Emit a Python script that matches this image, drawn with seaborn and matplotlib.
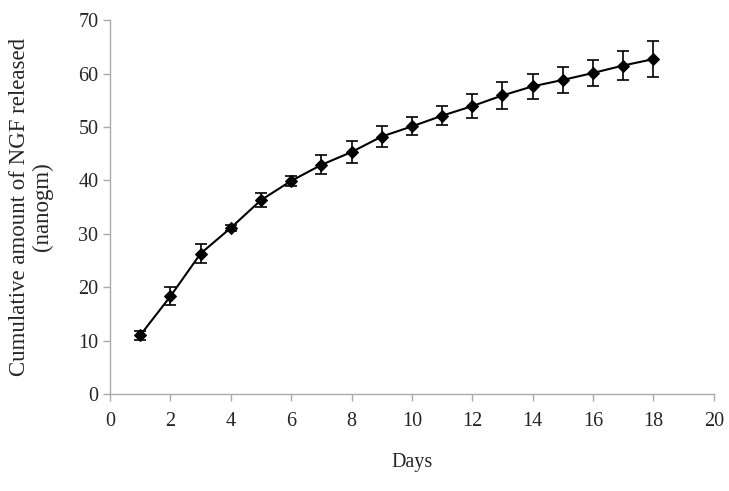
import matplotlib
matplotlib.use("Agg")
import matplotlib.pyplot as plt
import seaborn as sns
import pandas as pd

days = [1, 2, 3, 4, 5, 6, 7, 8, 9, 10, 11, 12, 13, 14, 15, 16, 17, 18]
released = [11.0, 18.3, 26.3, 31.1, 36.3, 39.9, 42.9, 45.3, 48.2, 50.1, 52.1, 53.9, 55.9, 57.6, 58.8, 60.1, 61.5, 62.7]
errors = [0.8, 1.7, 1.7, 0.6, 1.3, 1.0, 1.8, 2.0, 2.0, 1.7, 1.8, 2.2, 2.5, 2.4, 2.4, 2.5, 2.8, 3.3]

df = pd.DataFrame({"Days": days, "NGF": released, "err": errors})

sns.set_style("white")
plt.rcParams["font.family"] = ["Liberation Serif", "DejaVu Serif"]

fig = plt.figure(figsize=(7.29, 4.91), dpi=100)
ax = fig.add_axes([0.151, 0.1976, 0.828, 0.7614])

sns.lineplot(data=df, x="Days", y="NGF", ax=ax, color="black", linewidth=1.5,
             marker="D", markersize=6.5, markeredgecolor="black", markerfacecolor="black")
ax.errorbar(df["Days"], df["NGF"], yerr=df["err"], fmt="none", ecolor="black",
            elinewidth=1.2, capsize=4, capthick=1.2)

ax.set_xlim(0, 20)
ax.set_ylim(0, 70)
ax.set_xticks(range(0, 21, 2))
ax.set_yticks(range(0, 71, 10))
ax.tick_params(axis="both", labelsize=14.5, direction="out", length=5, color="#aaaaaa",
               width=1, left=True, bottom=True)
ax.tick_params(axis="x", pad=8)
for s in ["top", "right"]:
    ax.spines[s].set_visible(False)
for s in ["left", "bottom"]:
    ax.spines[s].set_color("#aaaaaa")
    ax.spines[s].set_linewidth(1)

ax.set_xlabel("Days", fontsize=14.5, labelpad=16)
ax.set_ylabel("Cumulative amount of NGF released\n(nanogm)", fontsize=16.5, labelpad=18,
              linespacing=1.1)

fig.savefig("out.png", dpi=100)
